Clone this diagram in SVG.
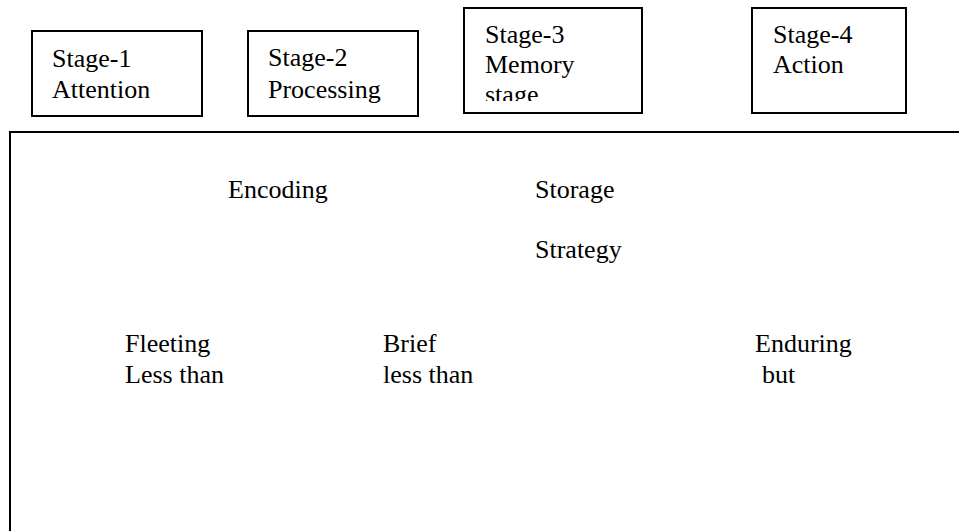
<svg xmlns="http://www.w3.org/2000/svg" width="959" height="531" viewBox="0 0 959 531">
<style>
.box{fill:#fff;stroke:#000;stroke-width:2}
.t{font-family:"Liberation Serif","Times New Roman",serif;font-size:26px;fill:#000}
</style>
<defs>
<clipPath id="c3"><rect x="463" y="7" width="179" height="94"/></clipPath>
</defs>
<rect width="959" height="531" fill="#fff"/>
<g id="frame">
<path d="M10,532 V132 H960" fill="none" stroke="#000" stroke-width="2"/>
</g>
<g id="stage1">
<rect class="box" x="32" y="31" width="170" height="85"/>
<text class="t" x="52" y="67">Stage-1</text>
<text class="t" x="52" y="98">Attention</text>
</g>
<g id="stage2">
<rect class="box" x="248" y="31" width="170" height="85"/>
<text class="t" x="268" y="66">Stage-2</text>
<text class="t" x="268" y="98">Processing</text>
</g>
<g id="stage3">
<rect class="box" x="464" y="8" width="178" height="105"/>
<g clip-path="url(#c3)">
<text class="t" x="485" y="43">Stage-3</text>
<text class="t" x="485" y="73">Memory</text>
<text class="t" x="485" y="103">stage</text>
</g>
</g>
<g id="stage4">
<rect class="box" x="752" y="8" width="154" height="105"/>
<text class="t" x="773" y="43">Stage-4</text>
<text class="t" x="773" y="73">Action</text>
</g>
<g id="labels">
<text class="t" x="228" y="198">Encoding</text>
<text class="t" x="535" y="198">Storage</text>
<text class="t" x="535" y="258">Strategy</text>
<text class="t" x="125" y="352">Fleeting</text>
<text class="t" x="125" y="383">Less than</text>
<text class="t" x="383" y="352">Brief</text>
<text class="t" x="383" y="383">less than</text>
<text class="t" x="755" y="352">Enduring</text>
<text class="t" x="762" y="383">but</text>
</g>
<g id="connectors"></g>
</svg>
